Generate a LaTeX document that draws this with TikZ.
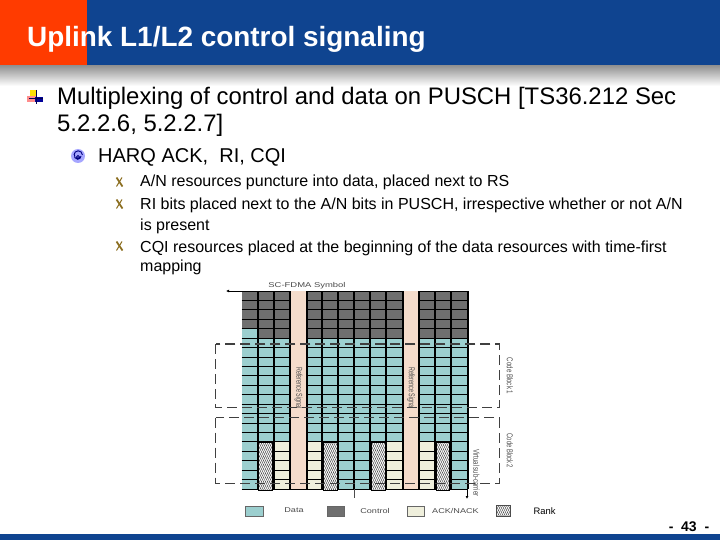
\documentclass[tikz,border=0pt]{standalone}
\usepackage{fontspec}
\setmainfont{Liberation Sans}
\usetikzlibrary{patterns.meta,arrows.meta}
\definecolor{hblue}{HTML}{0F4490}
\definecolor{hred}{HTML}{FF3B00}
\definecolor{cdata}{HTML}{9CCFCF}
\definecolor{cctrl}{HTML}{6F6F6F}
\definecolor{cack}{HTML}{EFEFDC}
\definecolor{crs}{HTML}{F5DCCB}
\definecolor{capt}{HTML}{4A4A4A}
\definecolor{bolive}{HTML}{8A6D1E}
\newcommand{\widecap}[1]{\scalebox{1.3}[1]{#1}}
\newcommand{\narrowcap}[2]{\scalebox{#1}[1]{#2}}
\tikzset{
 titletext/.style={anchor=base west,inner sep=0pt,text=white,font=\fontsize{27.9}{28}\selectfont\bfseries},
 lone/.style={anchor=base west,inner sep=0pt,font=\fontsize{23.9}{24}\selectfont},
 ltwo/.style={anchor=base west,inner sep=0pt,font=\fontsize{20}{20}\selectfont},
 lthree/.style={anchor=base west,inner sep=0pt,font=\fontsize{16}{16}\selectfont},
 capt text/.style={inner sep=0pt,text=capt,font=\fontsize{7}{7}\selectfont},
 vcapt/.style={capt text,rotate=-90,font=\fontsize{8.5}{8.5}\selectfont},
 gridh/.style={black,line width=0.8pt},
 gridv/.style={black,line width=1.2pt},
 blockbox/.style={draw=black!75,line width=1.2pt,dash pattern=on 10pt off 5pt},
 swatch/.style={draw=black!60,line width=.8pt},
 hatchfill/.style={pattern={Lines[angle=65,distance=1.8pt,line width=.5pt]},pattern color=black!80},
}
\begin{document}
\begin{tikzpicture}[x=1pt,y=-1pt]
\useasboundingbox (0,0) rectangle (720,540);
\fill[white] (0,0) rectangle (720,540);
% header
\fill[hblue] (87,0) rectangle (720,66);
\fill[hred] (0,0) rectangle (87,66);
\shade[top color=black!42,bottom color=white] (0,66) rectangle (720,86);
\fill[hblue] (0,534) rectangle (720,540);
\node[titletext] (title) at (27,47) {Uplink L1/L2 control signaling};
% bullets
\fill[yellow!80!orange] (30,90) rectangle (37,97);
\fill[red!45] (27,96) rectangle (37,102);
\fill[blue!60!black] (35,97) rectangle (43,102);
\draw[blue!30!black,line width=.9pt] (36,90) -- (36,104) (29,98.5) -- (43,98.5);
\fill[blue!35] (78,156) circle (7);
\draw[blue!50!black,line width=.9pt] (78,157) circle (1.5) (81,156) arc (0:200:3.3) (74,155) arc (180:360:4.2);
\foreach \yy in {182,204,246}{
 \draw[bolive,line width=1.7pt] (116.5,\yy-4.5) -- (122.5,\yy+4.5);
 \draw[bolive,line width=1pt] (122,\yy-4.5) -- (116.5,\yy+4.5);
}
% text
\node[lone] (t1) at (57,105) {Multiplexing of control and data on PUSCH [TS36.212 Sec};
\node[lone] (t2) at (57,132) {5.2.2.6, 5.2.2.7]};
\node[ltwo] (t3) at (98,163) {HARQ ACK,\ \ RI, CQI};
\node[lthree] (t4) at (140,187) {A/N resources puncture into data, placed next to RS};
\node[lthree] (t5) at (140,210) {RI bits placed next to the A/N bits in PUSCH, irrespective whether or not A/N};
\node[lthree] (t6) at (140,230) {is present};
\node[lthree] (t7) at (140,252) {CQI resources placed at the beginning of the data resources with time-first};
\node[lthree] (t8) at (140,271) {mapping};
% grid
\fill[cdata] (241.7,291) rectangle (468,489);
\fill[cctrl] (241.7,291) rectangle (468,338.2);
\fill[cdata] (241.7,329) rectangle (258,338.2);
\fill[cack] (274,442) rectangle (290,489);
\fill[cack] (307,442) rectangle (322,489);
\fill[cack] (386,442) rectangle (403,489);
\fill[cack] (419,442) rectangle (435,489);
\foreach \r in {0,...,21}{
 \draw[gridh] (241.7,291+\r*9.43) -- (468,291+\r*9.43);
}
\foreach \xx in {258,274,290,307,322,338,354,370,386,403,419,435,451,468}{
 \draw[gridv] (\xx,291) -- (\xx,489);
}
\fill[crs] (291,291) rectangle (306,489);
\fill[crs] (404,291) rectangle (418,489);
\foreach \xa in {258.7,323.3,371.7,436}{
 \fill[white] (\xa,442.5) rectangle (\xa+13.8,490);
 \draw[black,line width=1pt,hatchfill] (\xa,442.5) rectangle (\xa+13.8,490);
}
% dashed blocks
\draw[blockbox] (215.7,344) rectangle (499.3,407.7);
\draw[blockbox] (215.7,417.7) rectangle (499.3,483.3);
% arrows
\coordinate (sfa) at (226,291);
\coordinate (sfb) at (241.7,291);
\draw[black,line width=.7pt,-{Latex[length=3pt,width=3pt]}] (sfb) -- (sfa);
\coordinate (va) at (354,489);
\coordinate (vb) at (354,498);
\draw[black!70,line width=.9pt] (va) -- (vb);
\coordinate (wa) at (467,489);
\coordinate (wb) at (467,499);
\draw[black,line width=.8pt,-{Latex[length=3pt,width=3pt]}] (wa) -- (wb);
% captions
\node[capt text] (sc) at (307,286) {\scalebox{1.35}[1]{SC-FDMA Symbol}};
\node[vcapt] (rs1) at (298.5,388) {\narrowcap{0.63}{Reference Signal}};
\node[vcapt] (rs2) at (411,388) {\narrowcap{0.63}{Reference Signal}};
\node[vcapt] (cb1) at (510,376) {\narrowcap{0.72}{Code Block 1}};
\node[vcapt] (cb2) at (510,451) {\narrowcap{0.68}{Code Block 2}};
\node[vcapt] (vs) at (476.5,473) {\narrowcap{0.7}{Virtual sub-carrier}};
% legend
\draw[swatch,fill=cdata] (245.5,506.5) rectangle (263,516);
\node[capt text] (ld) at (294,510.5) {\widecap{Data}};
\draw[swatch,fill=cctrl] (327,506.5) rectangle (344,516);
\node[capt text] (lc) at (375,510.5) {\widecap{Control}};
\draw[swatch,fill=cack] (407.5,506.5) rectangle (424,516);
\node[capt text] (la) at (455.5,510.5) {\widecap{ACK/NACK}};
\draw[black!70,line width=.5pt,hatchfill] (496.5,505.5) rectangle (510,516.5);
\node[inner sep=0pt,anchor=base west,font=\fontsize{9.4}{10}\selectfont] (lr) at (533.5,514) {Rank};
\node[inner sep=0pt,font=\fontsize{14}{14}\selectfont\bfseries] (pg) at (689,527) {-\ \ 43\ \ -};
\end{tikzpicture}
\end{document}
